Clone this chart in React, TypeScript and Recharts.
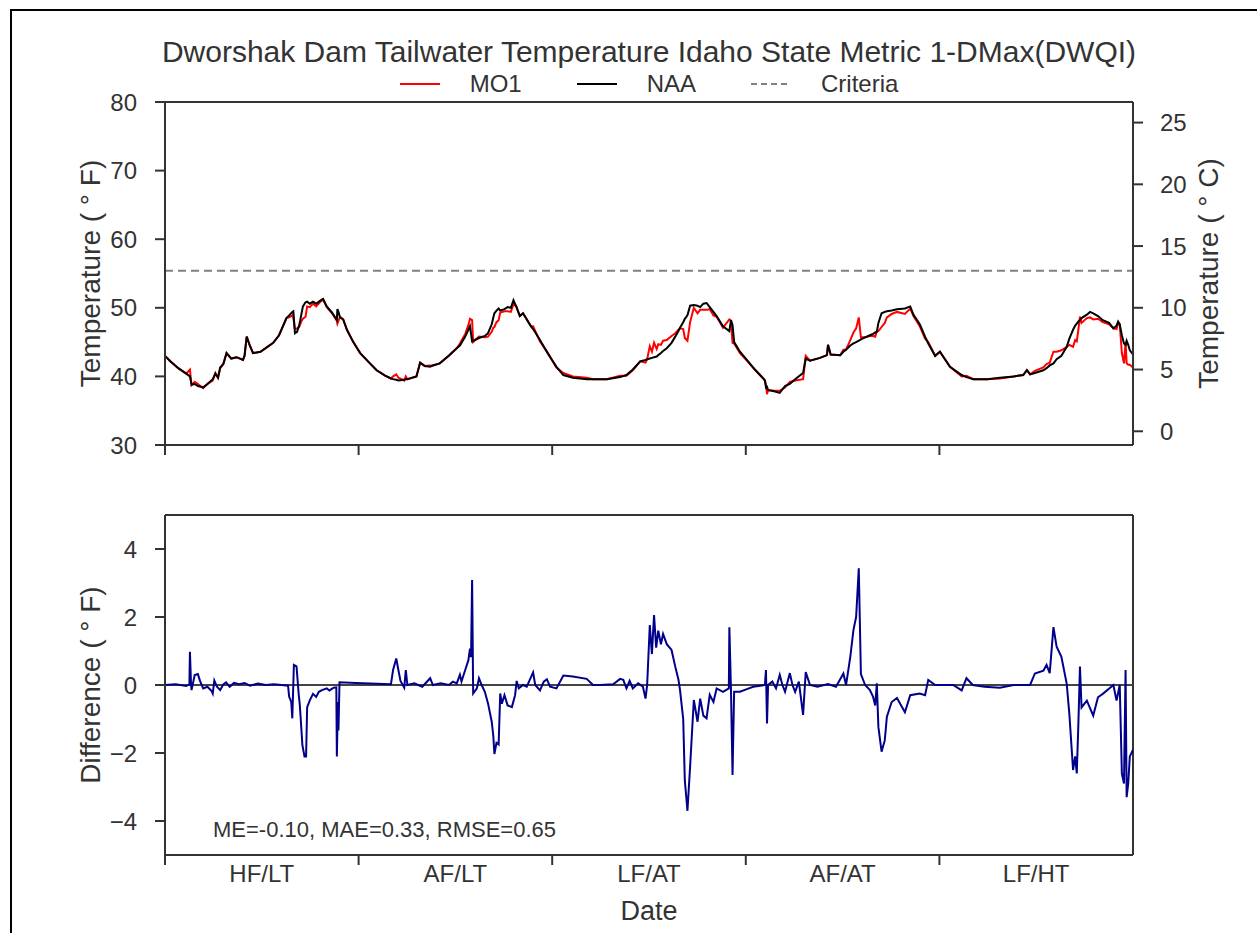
import React from "react";
import { Label, Line, LineChart, ReferenceLine, XAxis, YAxis } from "recharts";

// periods of the 5-year record, one per 365-day block
const periods = ["HF/LT", "AF/LT", "LF/AT", "AF/AT", "LF/HT"];
const DAYS = 365;
const periodStarts = [0, 365, 730, 1095, 1460];

const criteriaF = 55.4; // 13 C
const statsText = "ME=-0.10, MAE=0.33, RMSE=0.65";

// [day, degF]
const naaSeries: [number, number][] = [
  [0, 43.0], [10, 42.2], [25, 41.2], [40, 40.4], [47, 40.0], [50, 38.8], [56, 38.9], [62, 38.6], [72, 38.4], [80, 38.9],
  [90, 39.6], [95, 40.4], [100, 39.8], [104, 41.3], [110, 41.8], [116, 43.4], [125, 42.6], [135, 42.8], [147, 42.4], [150, 43.0],
  [154, 45.8], [160, 44.5], [166, 43.4], [180, 43.6], [204, 44.9], [215, 46.0], [229, 48.5], [234, 48.9], [240, 49.4], [242, 49.5],
  [245, 46.3], [249, 46.5], [253, 47.5], [255, 48.2], [257, 49.0], [260, 50.2], [265, 50.8], [268, 50.9], [273, 50.6], [279, 50.9],
  [285, 50.6], [292, 51.0], [298, 51.3], [305, 50.2], [315, 49.3], [324, 48.2], [325, 49.8], [327, 49.4], [330, 48.6], [336, 48.3],
  [343, 46.8], [355, 45.0], [368, 43.4], [385, 42.0], [399, 40.9], [415, 40.1], [426, 39.7], [430, 39.6], [436, 39.5], [440, 39.4],
  [451, 39.5], [454, 39.6], [457, 39.6], [474, 40.0], [481, 42.0], [490, 41.5], [500, 41.4], [505, 41.6], [518, 41.9], [535, 43.0],
  [550, 44.1], [556, 44.5], [566, 45.8], [572, 46.8], [575, 47.3], [579, 45.1], [581, 45.2], [592, 45.6], [603, 45.9], [609, 46.3],
  [616, 47.6], [619, 48.6], [621, 49.2], [625, 49.6], [629, 49.9], [632, 49.6], [640, 49.8], [646, 50.1], [652, 50.0], [657, 51.1],
  [662, 50.2], [669, 48.8], [675, 49.2], [690, 47.3], [694, 46.9], [707, 45.3], [722, 43.3], [738, 41.4], [751, 40.2], [769, 39.8],
  [795, 39.6], [807, 39.6], [833, 39.6], [858, 39.9], [870, 40.2], [882, 41.0], [896, 42.2], [906, 42.4], [909, 42.5], [914, 42.6],
  [918, 42.7], [922, 42.8], [927, 42.9], [930, 43.1], [935, 43.4], [939, 43.7], [946, 44.1], [955, 44.9], [962, 45.8], [968, 46.6],
  [971, 47.1], [977, 47.9], [980, 48.4], [985, 48.9], [990, 50.3], [997, 50.4], [1004, 50.3], [1009, 50.1], [1015, 50.6], [1021, 50.7],
  [1027, 50.1], [1034, 49.4], [1040, 48.8], [1052, 47.3], [1064, 46.6], [1067, 48.2], [1070, 47.5], [1073, 45.0], [1084, 43.6], [1097, 42.4],
  [1112, 41.0], [1128, 39.7], [1131, 39.4], [1133, 38.4], [1135, 38.5], [1137, 38.0], [1145, 37.9], [1159, 37.6], [1169, 38.6], [1178, 38.9],
  [1188, 39.6], [1203, 40.5], [1208, 42.6], [1216, 42.3], [1235, 42.7], [1248, 43.1], [1250, 44.6], [1255, 43.2], [1273, 43.1], [1279, 43.6],
  [1284, 43.9], [1292, 44.5], [1298, 44.8], [1303, 45.0], [1308, 45.2], [1312, 45.4], [1320, 45.7], [1329, 46.0], [1335, 46.2], [1339, 46.4],
  [1342, 46.5], [1345, 47.8], [1351, 49.2], [1357, 49.4], [1361, 49.5], [1370, 49.6], [1380, 49.8], [1395, 49.9], [1405, 50.2], [1411, 49.0],
  [1423, 47.6], [1433, 45.8], [1439, 44.8], [1452, 43.0], [1461, 43.6], [1480, 41.4], [1502, 40.2], [1511, 39.9], [1524, 39.6], [1550, 39.6],
  [1574, 39.8], [1600, 40.0], [1618, 40.2], [1625, 40.9], [1631, 40.3], [1640, 40.5], [1656, 40.9], [1662, 41.2], [1668, 41.6], [1675, 41.9],
  [1681, 42.5], [1690, 43.0], [1700, 44.3], [1705, 45.5], [1712, 46.8], [1716, 47.4], [1719, 47.7], [1722, 48.0], [1725, 48.2], [1728, 48.5],
  [1738, 49.0], [1744, 49.4], [1750, 49.2], [1759, 48.8], [1768, 48.2], [1780, 47.8], [1788, 47.0], [1794, 47.4], [1797, 48.0], [1800, 47.6],
  [1804, 46.0], [1808, 44.8], [1811, 44.6], [1813, 45.2], [1816, 44.6], [1819, 43.8], [1825, 43.2],
];

const mo1Series: [number, number][] = [
  [0, 43.0], [10, 42.2], [25, 41.2], [40, 40.4], [47, 41.0], [50, 38.7], [56, 39.2], [62, 38.9], [72, 38.3], [80, 38.9],
  [90, 39.4], [95, 40.5], [100, 39.8], [104, 41.2], [110, 41.8], [116, 43.4], [125, 42.6], [135, 42.8], [147, 42.4], [150, 43.0],
  [154, 45.8], [160, 44.5], [166, 43.4], [180, 43.6], [204, 44.9], [215, 46.0], [229, 48.5], [234, 48.6], [240, 48.9], [242, 48.5],
  [245, 46.9], [249, 47.0], [253, 47.2], [255, 47.6], [257, 48.0], [260, 48.4], [265, 48.7], [268, 50.2], [273, 50.1], [279, 50.6],
  [285, 50.2], [292, 50.8], [298, 51.2], [305, 50.1], [315, 49.2], [324, 48.1], [325, 47.7], [327, 48.1], [330, 48.7], [336, 48.3],
  [343, 46.8], [355, 45.0], [368, 43.4], [385, 42.0], [399, 40.9], [415, 40.1], [426, 39.7], [430, 40.0], [436, 40.3], [440, 39.8],
  [451, 39.4], [454, 40.0], [457, 39.6], [474, 40.0], [481, 42.0], [490, 41.5], [500, 41.6], [505, 41.6], [518, 41.9], [535, 43.0],
  [550, 44.1], [556, 44.8], [566, 46.2], [572, 47.5], [575, 48.4], [579, 48.2], [581, 45.0], [592, 45.8], [603, 45.7], [609, 45.8],
  [616, 46.5], [619, 47.1], [621, 47.2], [625, 47.9], [629, 48.2], [632, 49.3], [640, 49.5], [646, 49.5], [652, 49.4], [657, 50.5],
  [662, 50.3], [669, 48.8], [675, 49.2], [690, 47.3], [694, 47.3], [707, 45.1], [722, 43.4], [738, 41.3], [751, 40.5], [769, 40.0],
  [795, 39.8], [807, 39.6], [833, 39.6], [858, 40.1], [870, 40.1], [882, 40.9], [896, 42.2], [906, 42.0], [909, 42.5], [914, 44.4],
  [918, 43.6], [922, 44.9], [927, 44.0], [930, 44.7], [935, 44.6], [939, 45.2], [946, 45.3], [955, 45.9], [962, 46.3], [968, 46.8],
  [971, 47.0], [977, 46.9], [980, 45.6], [985, 45.2], [990, 47.9], [997, 50.0], [1004, 49.2], [1009, 49.7], [1015, 49.7], [1021, 49.7],
  [1027, 49.8], [1034, 48.9], [1040, 48.7], [1052, 47.1], [1064, 48.3], [1067, 48.1], [1070, 44.9], [1073, 44.8], [1084, 43.4], [1097, 42.3],
  [1112, 41.0], [1128, 39.7], [1131, 39.4], [1133, 38.8], [1135, 37.4], [1137, 38.0], [1145, 37.9], [1159, 37.9], [1169, 38.4], [1178, 39.2],
  [1188, 39.4], [1203, 39.6], [1208, 43.0], [1216, 42.3], [1235, 42.7], [1248, 43.1], [1250, 44.6], [1255, 43.2], [1273, 43.1], [1279, 43.9],
  [1284, 43.9], [1292, 45.3], [1298, 46.4], [1303, 47.0], [1308, 48.6], [1312, 45.7], [1320, 45.7], [1329, 45.9], [1335, 45.9], [1339, 45.8],
  [1342, 46.6], [1345, 46.6], [1351, 47.2], [1357, 47.8], [1361, 48.6], [1370, 49.1], [1380, 49.4], [1395, 49.1], [1405, 49.9], [1411, 48.8],
  [1423, 47.3], [1433, 45.5], [1439, 45.0], [1452, 43.0], [1461, 43.6], [1480, 41.4], [1502, 40.0], [1511, 40.1], [1524, 39.6], [1550, 39.6],
  [1574, 39.7], [1600, 40.0], [1618, 40.2], [1625, 40.9], [1631, 40.3], [1640, 40.8], [1656, 41.3], [1662, 41.8], [1668, 42.0], [1675, 43.6],
  [1681, 43.6], [1690, 43.8], [1700, 44.3], [1705, 44.6], [1712, 44.3], [1716, 45.3], [1719, 45.1], [1722, 46.8], [1725, 48.7], [1728, 47.8],
  [1738, 48.5], [1744, 48.6], [1750, 48.3], [1759, 48.4], [1768, 47.9], [1780, 47.6], [1788, 47.0], [1794, 46.9], [1797, 47.8], [1800, 47.6],
  [1804, 43.4], [1808, 41.9], [1811, 45.0], [1813, 41.9], [1816, 41.7], [1819, 41.7], [1825, 41.3],
];

// [day, MO1 - NAA in degF]
const diffSeries: [number, number][] = [
  [0, 0.0], [20, 0.02], [40, -0.03], [46, 0.02], [47, 0.98], [49, 0.05], [50, -0.15], [56, 0.29], [62, 0.32], [66, 0.12],
  [72, -0.1], [80, -0.05], [88, -0.18], [90, -0.25], [93, 0.13], [98, -0.05], [104, -0.15], [110, 0.02], [115, 0.08], [122, -0.05],
  [130, 0.06], [140, 0.02], [150, 0.06], [160, -0.02], [175, 0.04], [190, 0.0], [205, 0.02], [220, 0.0], [232, -0.02], [234, -0.34],
  [238, -0.5], [240, -0.98], [243, 0.59], [248, 0.55], [252, -0.26], [254, -0.56], [256, -1.03], [259, -1.76], [263, -2.1], [266, -2.1],
  [268, -0.65], [273, -0.45], [279, -0.26], [285, -0.35], [290, -0.2], [296, -0.15], [305, -0.1], [310, -0.16], [318, -0.08], [323, -0.07],
  [324, -2.1], [326, -0.5], [327, -1.34], [329, 0.08], [360, 0.06], [400, 0.04], [426, 0.02], [430, 0.44], [436, 0.78], [440, 0.44],
  [444, 0.12], [451, -0.08], [454, 0.44], [457, 0.0], [470, 0.05], [485, -0.05], [500, 0.2], [505, 0.0], [520, 0.05], [535, 0.0],
  [543, 0.1], [550, 0.05], [556, 0.3], [559, 0.1], [566, 0.44], [572, 0.73], [575, 1.07], [577, 0.82], [579, 3.09], [581, -0.25],
  [588, -0.1], [592, 0.2], [597, 0.0], [603, -0.2], [609, -0.54], [616, -1.08], [619, -1.5], [621, -2.03], [625, -1.7], [629, -1.75],
  [632, -0.25], [635, -0.55], [640, -0.3], [646, -0.6], [654, -0.65], [660, -0.3], [663, 0.12], [667, -0.1], [675, 0.0], [682, -0.05],
  [694, 0.37], [698, 0.0], [707, -0.16], [714, 0.1], [720, 0.17], [726, -0.05], [738, -0.1], [751, 0.28], [769, 0.25], [795, 0.18],
  [807, 0.0], [820, 0.0], [845, 0.02], [858, 0.18], [864, 0.15], [870, -0.1], [876, 0.12], [882, -0.1], [892, 0.05], [901, -0.05],
  [906, -0.4], [909, 0.0], [914, 1.76], [918, 0.91], [922, 2.06], [926, 1.1], [930, 1.6], [935, 1.2], [939, 1.5], [946, 1.2],
  [955, 1.03], [962, 0.54], [968, 0.16], [971, -0.15], [977, -1.0], [980, -2.8], [985, -3.7], [990, -2.4], [997, -0.44], [1004, -1.08],
  [1009, -0.4], [1015, -0.9], [1021, -0.98], [1027, -0.29], [1034, -0.5], [1040, -0.1], [1052, -0.2], [1063, -0.1], [1064, 1.7], [1067, -0.1],
  [1070, -2.65], [1073, -0.2], [1084, -0.2], [1097, -0.12], [1109, -0.05], [1131, 0.0], [1133, 0.44], [1135, -1.13], [1137, 0.0], [1145, 0.1],
  [1152, -0.1], [1159, 0.3], [1164, 0.0], [1169, -0.2], [1178, 0.35], [1183, 0.0], [1188, -0.2], [1195, 0.1], [1203, -0.88], [1208, 0.38],
  [1216, 0.0], [1230, -0.05], [1250, 0.03], [1265, -0.05], [1279, 0.34], [1284, 0.0], [1292, 0.83], [1298, 1.62], [1303, 2.0], [1308, 3.43],
  [1312, 0.32], [1320, 0.0], [1329, -0.15], [1335, -0.35], [1339, -0.6], [1342, 0.05], [1345, -1.24], [1351, -1.96], [1357, -1.63], [1361, -0.93],
  [1370, -0.5], [1380, -0.38], [1395, -0.8], [1405, -0.3], [1423, -0.25], [1433, -0.3], [1439, 0.15], [1452, 0.0], [1486, 0.0], [1502, -0.16],
  [1511, 0.2], [1523, 0.0], [1545, -0.05], [1574, -0.08], [1600, 0.0], [1631, 0.0], [1640, 0.34], [1656, 0.42], [1662, 0.59], [1668, 0.35],
  [1675, 1.7], [1681, 1.13], [1690, 0.83], [1700, 0.04], [1705, -0.85], [1712, -2.5], [1716, -2.1], [1719, -2.6], [1722, -1.15], [1725, 0.54],
  [1728, -0.66], [1738, -0.46], [1750, -0.9], [1759, -0.36], [1768, -0.26], [1788, 0.0], [1794, -0.46], [1800, 0.0], [1804, -2.6], [1808, -2.9],
  [1811, 0.44], [1813, -3.3], [1816, -2.9], [1819, -2.1], [1825, -1.9],
];

const tempTicksF = [30, 40, 50, 60, 70, 80];
const tempTicksC = [0, 5, 10, 15, 20, 25];
const diffTicks = [-4, -2, 0, 2, 4];

const FONT = "'Liberation Sans', Arial, Helvetica, sans-serif";
const TEXT = "#333";
const AXIS = "#333";
const RED = "#ff0000";
const NAVY = "#00008b";

const fToC = (f: number) => (f - 32) / 1.8;
const minus = (v: number) => (v < 0 ? "\u2212" + Math.abs(v) : String(v));

const naaData = naaSeries.map(([day, v]) => ({ day, v }));
const mo1Data = mo1Series.map(([day, v]) => ({ day, v }));
const diffData = diffSeries.map(([day, d]) => ({ day, d }));
const midTicks = periodStarts.map((s) => s + DAYS / 2);
const bottomTicks = [...periodStarts, ...midTicks].sort((a, b) => a - b);

const tickStyle = { fontSize: 24, fill: TEXT, fontFamily: FONT };

function TickMark({ x, y }: any) {
  return <line x1={x} x2={x} y1={y} y2={y + 10} stroke={AXIS} strokeWidth={2} />;
}

function PeriodTick({ x, y, payload }: any) {
  const v = payload.value;
  if (v % DAYS === 0) return <TickMark x={x} y={y} />;
  return (
    <text x={x} y={y + 18} textAnchor="middle" dominantBaseline="central" fontSize={24} fill={TEXT} fontFamily={FONT}>
      {periods[Math.floor(v / DAYS)]}
    </text>
  );
}

const legendItems = [
  { name: "MO1", color: RED, dash: undefined },
  { name: "NAA", color: "#000", dash: undefined },
  { name: "Criteria", color: "#808080", dash: "6 4" },
];

export default function App() {
  return (
    <div style={{ position: "absolute", left: 0, top: 0, width: 1257, height: 933, background: "#fff", fontFamily: FONT }}>
      <div style={{ position: "absolute", left: 10, top: 9, width: 1247, height: 924, borderTop: "2px solid #000", borderLeft: "2px solid #000" }} />
      <div style={{ position: "absolute", left: 0, width: 1298, top: 34, textAlign: "center", fontSize: 30, color: TEXT, lineHeight: "36px" }}>
        Dworshak Dam Tailwater Temperature Idaho State Metric 1-DMax(DWQI)
      </div>
      <div style={{ position: "absolute", left: 165, width: 968, top: 70, height: 28, display: "flex", justifyContent: "center", alignItems: "center", gap: 55, fontSize: 24, color: TEXT }}>
        {legendItems.map((it) => (
          <div key={it.name} style={{ display: "flex", alignItems: "center" }}>
            <svg width={40} height={4}>
              <line x1={0} x2={40} y1={2} y2={2} stroke={it.color} strokeWidth={2} strokeDasharray={it.dash} />
            </svg>
            <span style={{ marginLeft: 30 }}>{it.name}</span>
          </div>
        ))}
      </div>

      <div style={{ position: "absolute", left: 0, top: 0 }}>
        <LineChart width={1257} height={480} margin={{ top: 102, right: 0, bottom: 0, left: 0 }}>
          <XAxis dataKey="day" type="number" domain={[0, 1825]} allowDataOverflow ticks={periodStarts} interval={0}
            tick={(p: any) => <TickMark x={p.x} y={p.y} />} tickLine={false} tickSize={0} tickMargin={0} height={35}
            axisLine={{ stroke: AXIS, strokeWidth: 2 }} />
          <YAxis yAxisId={0} type="number" domain={[30, 80]} ticks={tempTicksF} interval={0} width={165}
            tick={tickStyle} tickSize={10} tickMargin={18} tickLine={{ stroke: AXIS, strokeWidth: 2 }} axisLine={{ stroke: AXIS, strokeWidth: 2 }}>
            <Label value="Temperature ( ° F)" angle={-90} position="insideLeft" offset={90}
              style={{ textAnchor: "middle", fontSize: 28, fill: TEXT, fontFamily: FONT }} />
          </YAxis>
          <YAxis yAxisId="c" orientation="right" type="number" domain={[fToC(30), fToC(80)]} allowDataOverflow ticks={tempTicksC} interval={0} width={124}
            tick={tickStyle} tickSize={10} tickMargin={17} tickLine={{ stroke: AXIS, strokeWidth: 2 }} axisLine={{ stroke: AXIS, strokeWidth: 2 }}>
            <Label value="Temperature ( ° C)" angle={-90} position="insideRight" offset={49}
              style={{ textAnchor: "middle", fontSize: 28, fill: TEXT, fontFamily: FONT }} />
          </YAxis>
          <ReferenceLine y={80} stroke={AXIS} strokeWidth={2} />
          <ReferenceLine y={criteriaF} stroke="#808080" strokeWidth={2} strokeDasharray="8 5" />
          <Line data={mo1Data} dataKey="v" type="linear" stroke={RED} strokeWidth={2} dot={false} isAnimationActive={false} />
          <Line data={naaData} dataKey="v" type="linear" stroke="#000" strokeWidth={2} dot={false} isAnimationActive={false} />
        </LineChart>
      </div>

      <div style={{ position: "absolute", left: 0, top: 480 }}>
        <LineChart width={1257} height={453} data={diffData} margin={{ top: 35, right: 124, bottom: 0, left: 0 }}>
          <XAxis dataKey="day" type="number" domain={[0, 1825]} allowDataOverflow ticks={bottomTicks} interval={0}
            tick={(p: any) => <PeriodTick {...p} />} tickLine={false} tickSize={0} tickMargin={0} height={78}
            axisLine={{ stroke: AXIS, strokeWidth: 2 }}>
            <Label value="Date" position="insideBottom" offset={13} style={{ fontSize: 27, fill: TEXT, fontFamily: FONT }} />
          </XAxis>
          <YAxis type="number" domain={[-5, 5]} ticks={diffTicks} interval={0} width={165} tickFormatter={minus}
            tick={tickStyle} tickSize={10} tickMargin={18} tickLine={{ stroke: AXIS, strokeWidth: 2 }} axisLine={{ stroke: AXIS, strokeWidth: 2 }}>
            <Label value="Difference ( ° F)" angle={-90} position="insideLeft" offset={90}
              style={{ textAnchor: "middle", fontSize: 28, fill: TEXT, fontFamily: FONT }} />
          </YAxis>
          <ReferenceLine y={5} stroke={AXIS} strokeWidth={2} />
          <ReferenceLine x={1825} stroke={AXIS} strokeWidth={2} />
          <ReferenceLine y={0} stroke="#444" strokeWidth={1.8} />
          <Line dataKey="d" type="linear" stroke={NAVY} strokeWidth={2} dot={false} isAnimationActive={false} />
        </LineChart>
      </div>

      <div style={{ position: "absolute", left: 213, top: 817, fontSize: 22, lineHeight: "26px", color: TEXT }}>{statsText}</div>
    </div>
  );
}
